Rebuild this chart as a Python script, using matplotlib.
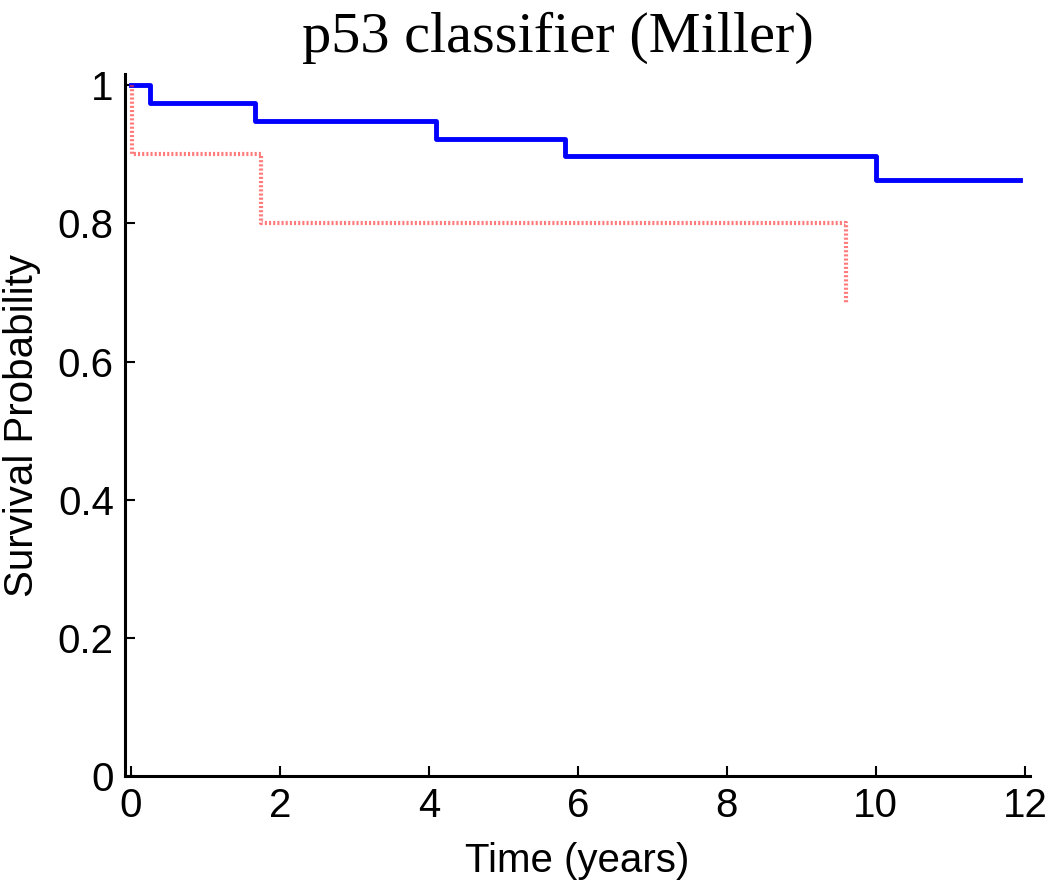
import numpy as np
import matplotlib.pyplot as plt

# Kaplan-Meier step curves
time_low = [0, 0.25, 1.67, 4.09, 5.83, 10.0, 11.93]
surv_low = [1.0, 0.974, 0.948, 0.922, 0.897, 0.863, 0.863]

time_high = [0.02, 0.02, 1.75, 9.6, 9.6]
surv_high = [1.0, 0.9, 0.8, 0.8, 0.685]

fig = plt.figure(figsize=(10.5, 8.83), dpi=100)
ax = fig.add_axes([0.119, 0.121, 0.862, 0.795])

ax.step(time_low, surv_low, where='post', color='#0000ff', linewidth=3.5)
ax.step(time_high, surv_high, where='post', color='#ff3333',
        linewidth=3.0, linestyle=(0, (0.5, 0.5)), alpha=0.65)

ax.set_xlim(-0.08, 12.07)
ax.set_ylim(0, 1.016)
ax.set_xticks(np.arange(0, 13, 2))
ax.set_yticks([0, 0.2, 0.4, 0.6, 0.8, 1])
ax.set_yticklabels(['0', '0.2', '0.4', '0.6', '0.8', '1'])

for side in ['top', 'right']:
    ax.spines[side].set_visible(False)
for side in ['left', 'bottom']:
    ax.spines[side].set_linewidth(2.2)

ax.tick_params(direction='in', length=7, width=1.5, labelsize=29, pad=8)
for lab in ax.get_xticklabels() + ax.get_yticklabels():
    lab.set_family('Liberation Sans')

ax.set_xlabel('Time (years)', fontsize=29, family='Liberation Sans', labelpad=12)
ax.set_ylabel('Survival Probability', fontsize=29, family='Liberation Sans', labelpad=12)
ax.set_title('p53 classifier (Miller)', fontsize=42, family='Liberation Serif',
             pad=16, x=0.478)

fig.savefig('out.png', dpi=100)
